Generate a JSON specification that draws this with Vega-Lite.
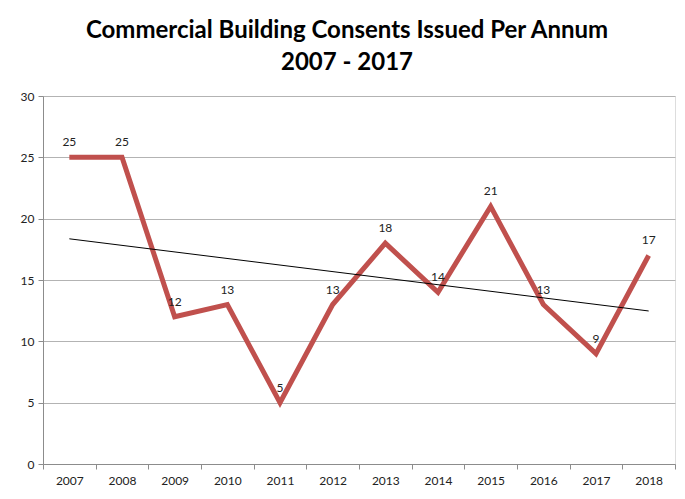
{
  "$schema": "https://vega.github.io/schema/vega-lite/v6.json",
  "width": 632,
  "height": 368,
  "autosize": {"type": "none"},
  "padding": {"left": 43, "top": 96, "right": 10, "bottom": 35},
  "background": "white",
  "title": {
    "text": ["Commercial Building Consents Issued Per Annum", "2007 - 2017"],
    "font": "Lato",
    "fontSize": 24,
    "fontWeight": "bold",
    "color": "#000000",
    "anchor": "middle",
    "dx": -12,
    "offset": 15,
    "lineHeight": 32
  },
  "data": {
    "values": [
      {"year": 2007, "value": 25},
      {"year": 2008, "value": 25},
      {"year": 2009, "value": 12},
      {"year": 2010, "value": 13},
      {"year": 2011, "value": 5},
      {"year": 2012, "value": 13},
      {"year": 2013, "value": 18},
      {"year": 2014, "value": 14},
      {"year": 2015, "value": 21},
      {"year": 2016, "value": 13},
      {"year": 2017, "value": 9},
      {"year": 2018, "value": 17}
    ]
  },
  "encoding": {
    "x": {
      "field": "year",
      "type": "ordinal",
      "bandPosition": 0.5,
      "scale": {"type": "band", "paddingInner": 0, "paddingOuter": 0},
      "axis": {
        "title": null,
        "labelAngle": 0,
        "labelFont": "Lato",
        "labelFontSize": 12,
        "labelColor": "#222222",
        "labelPadding": 6,
        "domainColor": "#8c8c8c",
        "tickColor": "#8c8c8c",
        "tickSize": 5,
        "tickBand": "extent",
        "grid": false
      }
    },
    "y": {
      "field": "value",
      "type": "quantitative",
      "scale": {"domain": [0, 30], "nice": false},
      "axis": {
        "title": null,
        "values": [0, 5, 10, 15, 20, 25, 30],
        "labelFont": "Lato",
        "labelFontSize": 12,
        "labelColor": "#222222",
        "labelPadding": 4,
        "domainColor": "#8c8c8c",
        "tickColor": "#8c8c8c",
        "tickSize": 5,
        "grid": true,
        "gridColor": "#b3b3b3",
        "gridWidth": 1
      }
    }
  },
  "layer": [
    {
      "mark": {"type": "line", "color": "#C0504D", "strokeWidth": 5, "strokeJoin": "miter", "strokeCap": "butt"}
    },
    {
      "mark": {"type": "text", "font": "Lato", "fontSize": 12, "color": "#222222", "dy": -15},
      "encoding": {"text": {"field": "value", "type": "quantitative"}}
    },
    {
      "transform": [{"regression": "value", "on": "year", "method": "linear", "extent": [2007, 2018]}],
      "mark": {"type": "line", "color": "#000000", "strokeWidth": 1}
    }
  ]
}
